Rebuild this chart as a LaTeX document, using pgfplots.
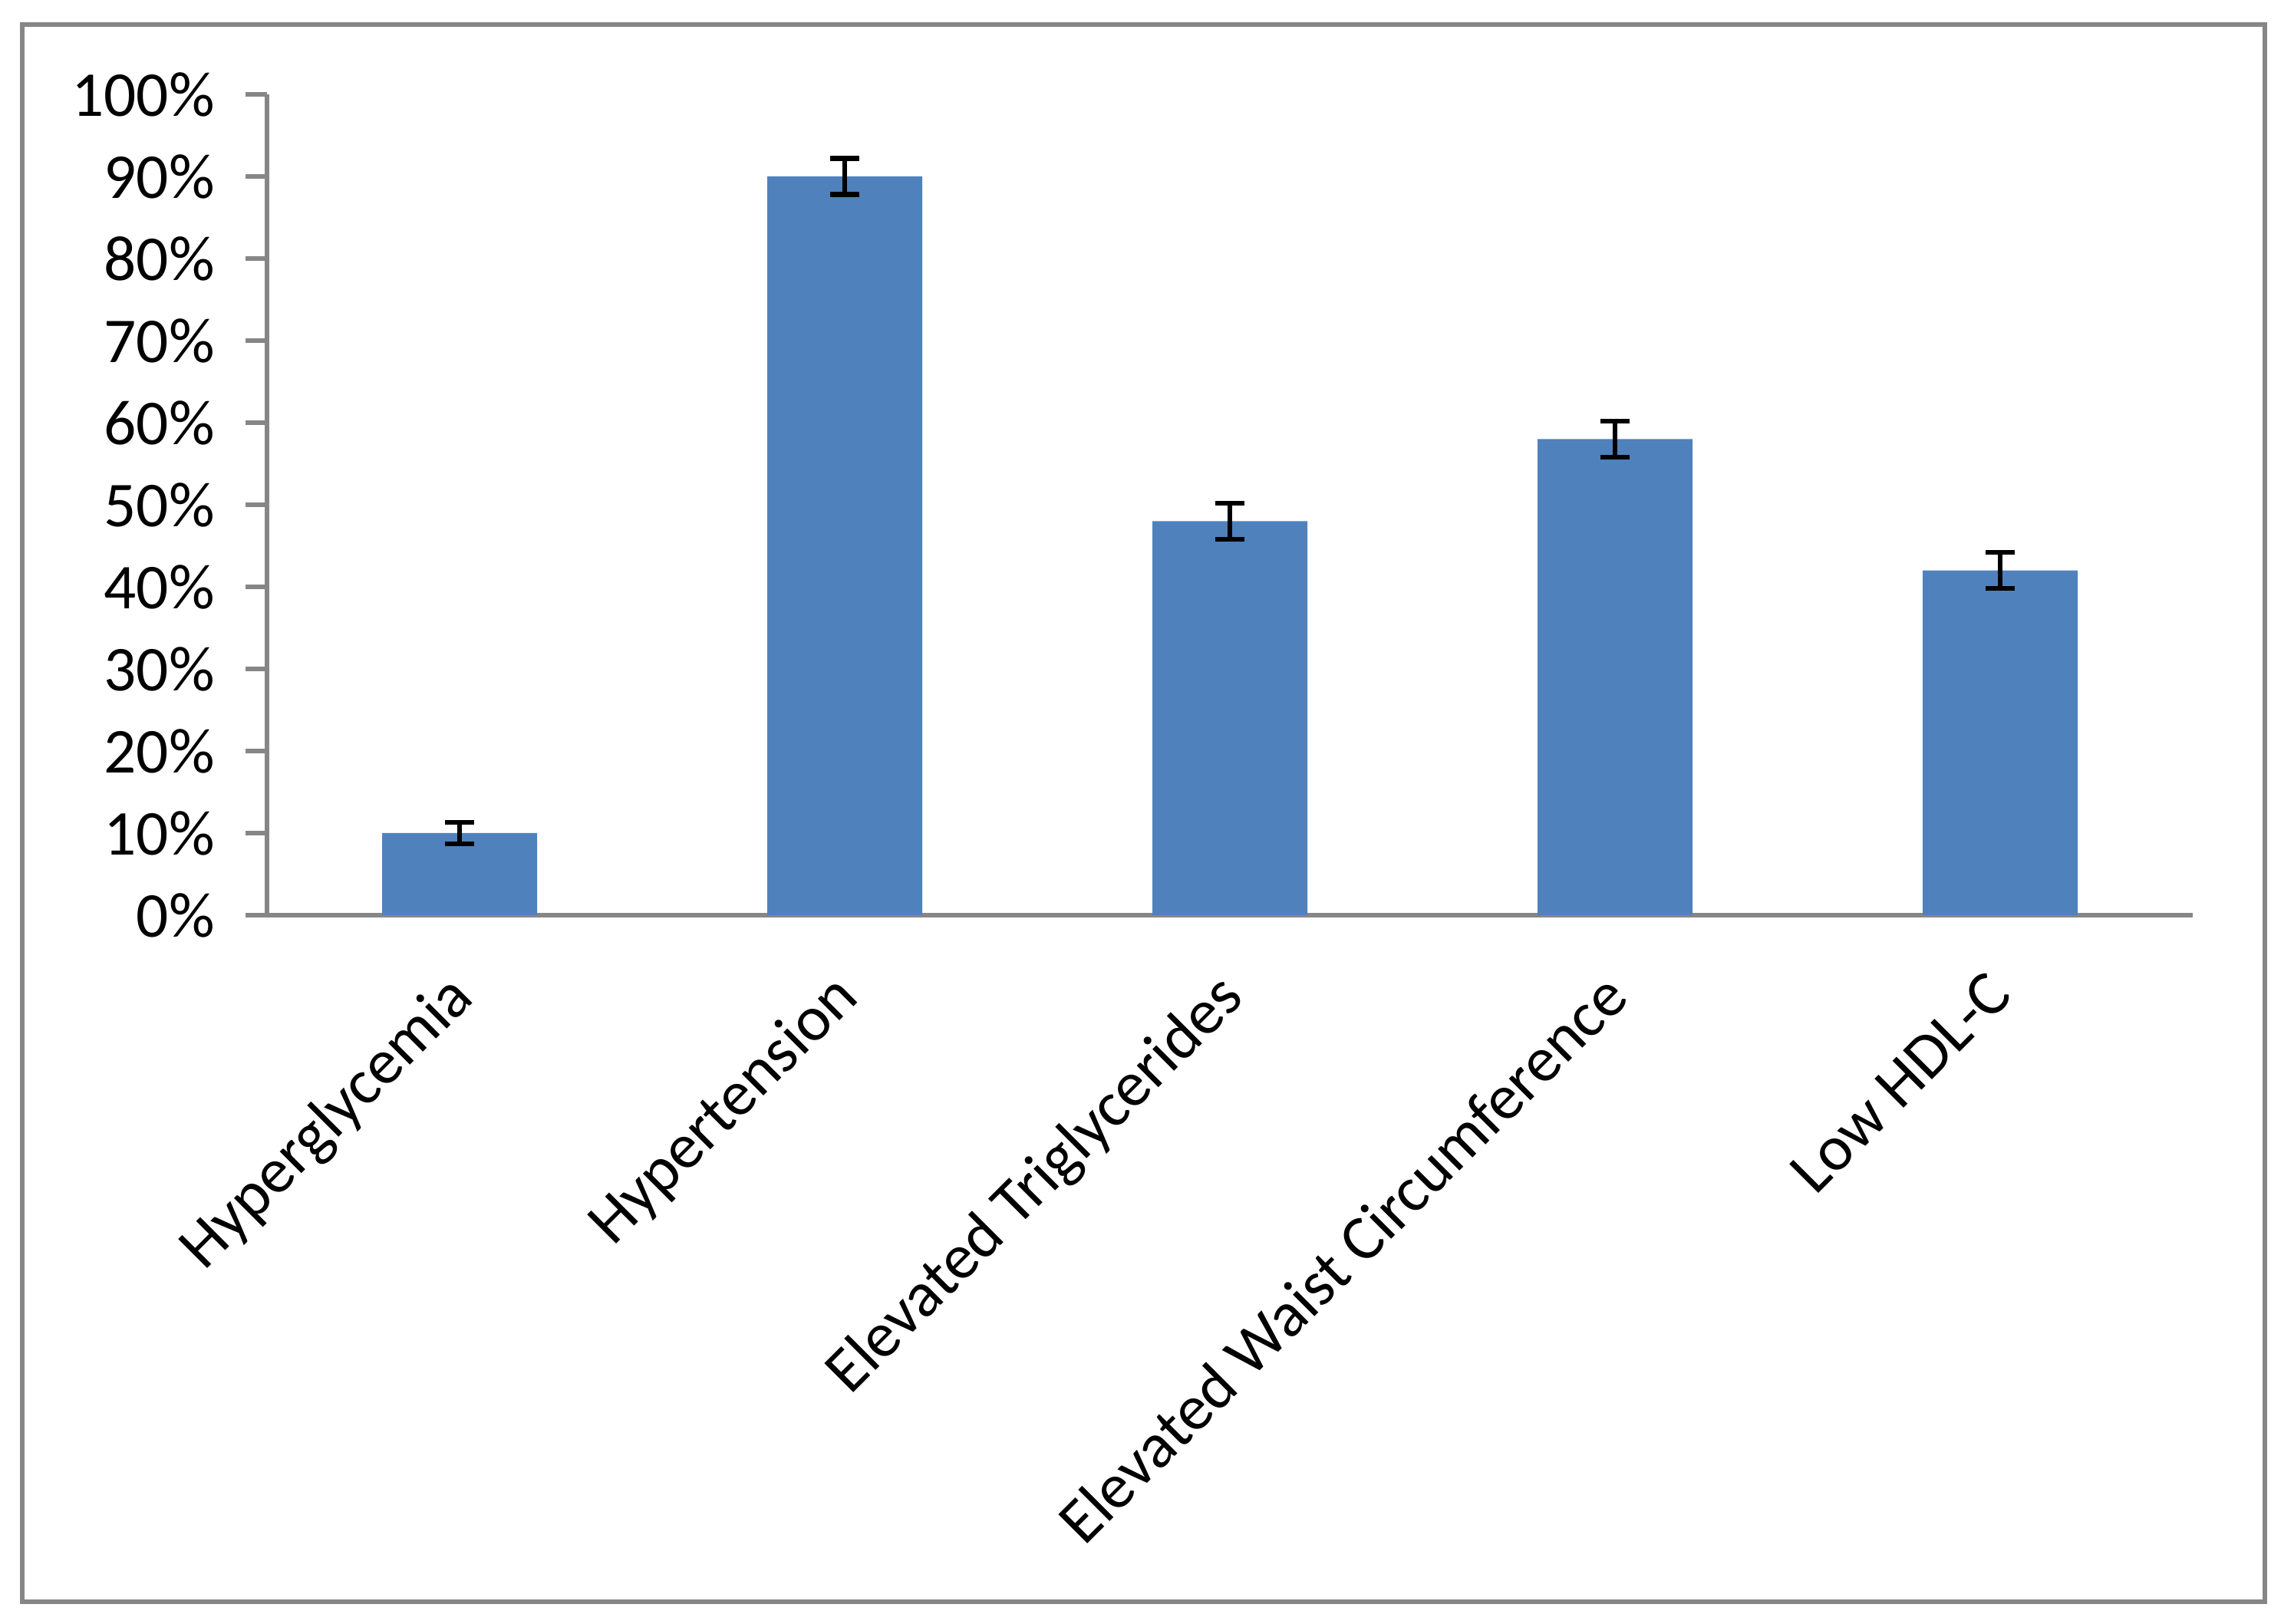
\documentclass[border=0pt]{standalone}
\usepackage{pgfplots}
\pgfplotsset{compat=1.18}
\usepackage{fontspec}
\setmainfont{Carlito}
\definecolor{barblue}{RGB}{79,129,189}
\definecolor{axgray}{RGB}{134,134,134}
\begin{document}
\begin{tikzpicture}
\path[use as bounding box] (0,0) rectangle (448.5pt,317.55pt);
\draw[axgray, line width=0.9pt] (4.35pt,4.35pt) rectangle (442.8pt,312.75pt);
\begin{axis}[
  at={(52.2pt,138.6pt)}, anchor=south west,
  scale only axis, width=376.5pt, height=160.5pt,
  xmin=-0.5, xmax=4.5, ymin=0, ymax=100,
  axis x line*=bottom, axis y line*=left,
  axis line style={axgray, line width=1pt},
  tick align=outside,
  xtick={0,1,2,3,4},
  xticklabels={Hyperglycemia,Hypertension,Elevated Triglycerides,Elevated Waist Circumference,Low HDL-C},
  x tick style={draw=none},
  minor xtick={-0.5,0.5,1.5,2.5,3.5,4.5},
  minor x tick style={axgray, line width=1pt},
  minor tick length=3.8pt,
  ytick={0,10,...,100},
  y tick style={axgray, line width=1pt},
  major tick length=4.2pt,
  yticklabel={\pgfmathprintnumber{\tick}\%},
  /pgf/number format/assume math mode=true,
  ticklabel style={font=\fontsize{12.5}{14}\selectfont, text=black},
  yticklabel style={xshift=-2.5pt},
  xticklabel style={rotate=45, anchor=north east, inner sep=1pt, xshift=-5.4pt, yshift=-1.1pt},
]
\addplot[ybar, bar width=30.3pt, fill=barblue, draw=none,
  error bars/.cd, y dir=both, y explicit,
  error bar style={black, line width=1pt},
  error mark options={black, line width=1pt, mark size=2.85pt, rotate=90}]
  coordinates {
    (0,10) +- (0,1.3)
    (1,90) +- (0,2.2)
    (2,48) +- (0,2.2)
    (3,58) +- (0,2.2)
    (4,42) +- (0,2.2)
  };
\end{axis}
\end{tikzpicture}
\end{document}
